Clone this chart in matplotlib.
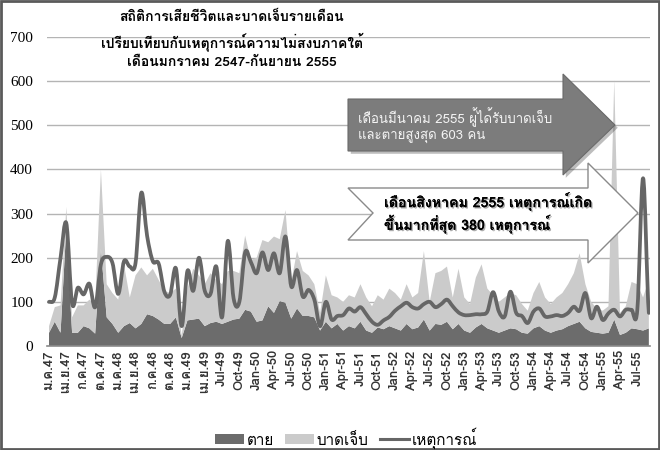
import matplotlib
matplotlib.use("Agg")
import matplotlib.pyplot as plt
import matplotlib.patheffects as pe
from matplotlib.path import Path
from matplotlib.patches import PathPatch, Polygon, Patch, Rectangle
from matplotlib.lines import Line2D
import numpy as np

TXT = ["Loma", "DejaVu Sans"]

# monthly data, ม.ค.47 (Jan 2004) .. ก.ย.55 (Sep 2012)
dead = [30, 55, 30, 270, 30, 30, 45, 40, 28, 220, 65, 50, 30, 45, 52, 40, 50, 72, 68, 60,
        50, 50, 65, 18, 58, 60, 62, 45, 52, 55, 50, 55, 60, 62, 82, 78, 55, 58, 90, 75,
        102, 98, 62, 85, 68, 68, 65, 35, 55, 40, 50, 35, 45, 40, 55, 35, 30, 42, 38, 45,
        40, 35, 50, 38, 42, 60, 35, 50, 48, 55, 38, 50, 35, 30, 42, 50, 40, 35, 30, 35,
        40, 38, 30, 28, 40, 45, 35, 30, 35, 38, 45, 50, 55, 40, 32, 30, 28, 30, 60, 25,
        30, 40, 38, 35, 40]
injured = [15, 33, 62, 45, 35, 62, 47, 65, 67, 180, 75, 70, 75, 140, 58, 120, 128, 88, 107, 90,
           75, 70, 65, 5, 72, 115, 98, 95, 113, 95, 90, 115, 110, 103, 168, 117, 145, 182, 145, 173,
           140, 210, 83, 130, 102, 92, 75, 40, 105, 75, 60, 65, 70, 70, 85, 75, 60, 73, 67, 85,
           80, 70, 90, 72, 78, 155, 65, 115, 122, 125, 72, 125, 75, 65, 113, 135, 90, 80, 70, 75,
           80, 77, 65, 52, 80, 100, 75, 65, 75, 82, 95, 115, 155, 100, 68, 55, 52, 60, 543, 50,
           60, 105, 102, 75, 110]
events = [100, 110, 200, 278, 96, 132, 117, 141, 88, 185, 202, 188, 118, 192, 180, 188, 347, 250, 192, 187,
          123, 116, 176, 45, 170, 125, 200, 125, 118, 180, 65, 238, 108, 100, 212, 190, 165, 212, 172, 210,
          165, 248, 135, 172, 112, 127, 105, 45, 100, 60, 68, 70, 85, 78, 88, 72, 55, 48, 58, 66,
          80, 90, 98, 88, 85, 95, 100, 88, 95, 105, 90, 76, 70, 70, 72, 72, 78, 122, 78, 67,
          123, 75, 68, 52, 78, 85, 67, 67, 70, 68, 75, 89, 80, 120, 63, 89, 59, 74, 82, 67,
          82, 82, 82, 380, 75]

tick_labels = ['ม.ค.47', 'เม.ย.47', 'ก.ค.47', 'ต.ค.47', 'ม.ค.48', 'เม.ย.48', 'ก.ค.48', 'ต.ค.48',
               'ม.ค.49', 'เม.ย.49', 'Jul-49', 'Oct-49',
               'Jan-50', 'Apr-50', 'Jul-50', 'Oct-50', 'Jan-51', 'Apr-51', 'Jul-51', 'Oct-51',
               'Jan-52', 'Apr-52', 'Jul-52', 'Oct-52', 'Jan-53', 'Apr-53', 'Jul-53', 'Oct-53',
               'Jan-54', 'Apr-54', 'Jul-54', 'Oct-54', 'Jan-55', 'Apr-55', 'Jul-55']

title = "สถิติการเสียชีวิตและบาดเจ็บรายเดือน\nเปรียบเทียบกับเหตุการณ์ความไม่สงบภาคใต้\nเดือนมกราคม 2547-กันยายน 2555"
note1 = "เดือนมีนาคม 2555 ผู้ได้รับบาดเจ็บ\nและตายสูงสุด 603 คน"
note2 = "เดือนสิงหาคม 2555 เหตุการณ์เกิด\nขึ้นมากที่สุด 380 เหตุการณ์"
legend_names = ["ตาย", "บาดเจ็บ", "เหตุการณ์"]

DARK = "#6c6c6c"
LIGHT = "#cbcbcb"
LINE = "#666666"

W, H = 660, 450
fig = plt.figure(figsize=(W / 100, H / 100), dpi=100)
fig.patch.set_facecolor("white")


def fp(x, y):
    return (x / W, 1 - y / H)


ax = fig.add_axes([47 / W, 1 - 346 / H, 603 / W, 309 / H])
x = np.arange(len(dead))
ax.stackplot(x, dead, injured, colors=[DARK, LIGHT], linewidth=0, zorder=2)

# smoothed line like Excel (bezier through the points)
ev = np.array(events, dtype=float)
verts = [(x[0], ev[0])]
codes = [Path.MOVETO]
n = len(ev)
for i in range(n - 1):
    p0 = ev[max(i - 1, 0)]
    p1 = ev[i]
    p2 = ev[i + 1]
    p3 = ev[min(i + 2, n - 1)]
    c1 = (x[i] + 1 / 3, p1 + (p2 - p0) / 6)
    c2 = (x[i + 1] - 1 / 3, p2 - (p3 - p1) / 6)
    verts += [c1, c2, (x[i + 1], p2)]
    codes += [Path.CURVE4] * 3
ax.add_patch(PathPatch(Path(verts, codes), fill=False, edgecolor=LINE, lw=2.7,
                       capstyle="round", joinstyle="round", zorder=4))

ax.set_xlim(-0.35, 104.2)
ax.set_ylim(0, 700)
ax.set_yticks(range(0, 701, 100))
ax.yaxis.set_tick_params(labelfontfamily="Liberation Serif", labelsize=11, length=0, pad=10)
ax.yaxis.grid(True, color="#b4b4b4", lw=1.0, zorder=1)
ax.set_axisbelow(True)
for s in ["left", "top", "right"]:
    ax.spines[s].set_visible(False)
ax.spines["bottom"].set_color("#8a8a8a")
ax.spines["bottom"].set_linewidth(1.2)
ax.tick_params(axis="x", length=0, pad=3)
ax.set_xticks(x[::3], labels=tick_labels, rotation=90, fontsize=9.5, family=TXT,
              fontweight="bold", color="#333333")

# title
fig.text(232 / W, 1 - 11 / H, title, ha="center", va="top", fontsize=10, fontweight="bold",
         family=TXT, linespacing=1.55)

# dark block arrow
arrow1 = [(348, 99), (563, 99), (563, 74), (615, 125), (563, 175), (563, 151), (348, 151)]
fig.patches.append(Polygon([fp(*p) for p in arrow1], closed=True, transform=fig.transFigure,
                           facecolor="#7c7c7c", edgecolor="#6a6a6a", lw=0.8,
                           path_effects=[pe.withSimplePatchShadow(offset=(2, -2), alpha=0.3)]))
fig.text(358 / W, 1 - 125 / H, note1, ha="left", va="center", fontsize=9.5, color="#f4f4f4",
         family=TXT, linespacing=1.4)

# white notched arrow
arrow2 = [(348, 188), (588, 188), (588, 163), (638, 213), (588, 263), (588, 240), (348, 240),
          (373, 213)]
fig.patches.append(Polygon([fp(*p) for p in arrow2], closed=True, transform=fig.transFigure,
                           facecolor="white", edgecolor="#8a8a8a", lw=1.0))
fig.text(384 / W, 1 - 213 / H, note2, ha="left", va="center", fontsize=10.2, fontweight="bold",
         color="black", family=TXT, linespacing=1.25,
         path_effects=[pe.withSimplePatchShadow(offset=(1, -1), shadow_rgbFace="#888888", alpha=0.7),
                       pe.Normal()])

# legend
handles = [Patch(facecolor=DARK, edgecolor="none"), Patch(facecolor=LIGHT, edgecolor="none"),
           Line2D([], [], color=LINE, lw=2.2)]
leg = fig.legend(handles, legend_names, loc="center", bbox_to_anchor=fp(346, 438), ncol=3,
                 frameon=False, prop={"family": TXT, "size": 11}, handlelength=1.9,
                 handleheight=0.6, columnspacing=0.7, handletextpad=0.2)

# outer frame
fig.patches.append(Rectangle((0.002, 0.002), 0.996, 0.995, transform=fig.transFigure,
                             fill=False, edgecolor="#5a5a5a", lw=2))

fig.savefig("out.png", dpi=100)
